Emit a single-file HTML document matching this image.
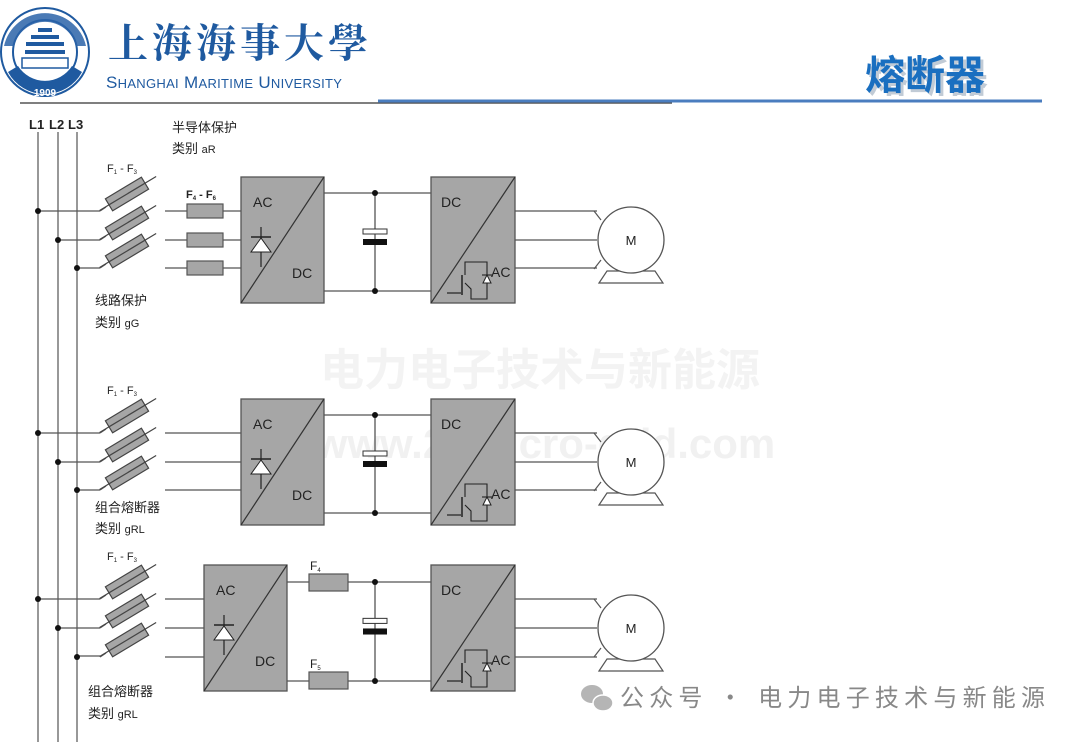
<!DOCTYPE html>
<html><head><meta charset="utf-8"><style>
html,body{margin:0;padding:0;background:#fff;}
body{width:1080px;height:742px;overflow:hidden;position:relative;font-family:"Liberation Sans","Noto Sans CJK SC",sans-serif;}
</style></head><body>
<svg width="1080" height="742" viewBox="0 0 1080 742" xmlns="http://www.w3.org/2000/svg" style="position:absolute;left:0;top:0;font-family:'Liberation Sans','Noto Sans CJK SC',sans-serif">
<defs>
<g id="tf">
  <line x1="-32" y1="0" x2="34" y2="0" stroke="#444" stroke-width="1.2"/>
  <rect x="-21" y="-7" width="42" height="14" fill="#a6a6a6" stroke="#444" stroke-width="1.2"/>
  <line x1="-21" y1="0" x2="21" y2="0" stroke="#444" stroke-width="1.2"/>
</g>
<g id="fuse3">
  <line x1="100" y1="0" x2="106" y2="-4" stroke="#555" stroke-width="1.3"/>
  <g transform="translate(127,-17) rotate(-31)"><use href="#tf"/></g>
</g>
<g id="conv1">
  <rect x="0" y="0" width="83" height="126" fill="#a6a6a6" stroke="#555" stroke-width="1.3"/>
  <line x1="0" y1="126" x2="83" y2="0" stroke="#333" stroke-width="1.2"/>
  <text x="12" y="30" font-size="14" fill="#222">AC</text>
  <text x="51" y="101" font-size="14" fill="#222">DC</text>
  <line x1="20" y1="50" x2="20" y2="90" stroke="#222" stroke-width="1.2"/>
  <line x1="10" y1="60" x2="30" y2="60" stroke="#222" stroke-width="1.5"/>
  <polygon points="20,61 10,75 30,75" fill="#fff" stroke="#222" stroke-width="1"/>
</g>
<g id="conv2">
  <rect x="0" y="0" width="84" height="126" fill="#a6a6a6" stroke="#555" stroke-width="1.3"/>
  <line x1="0" y1="126" x2="84" y2="0" stroke="#333" stroke-width="1.2"/>
  <text x="10" y="30" font-size="14" fill="#222">DC</text>
  <text x="60" y="100" font-size="14" fill="#222">AC</text>
  <polyline points="16,116 30,116" fill="none" stroke="#222" stroke-width="1.2"/>
  <line x1="31" y1="98" x2="31" y2="118" stroke="#222" stroke-width="1.5"/>
  <polyline points="34,98 34,85 56,85 56,122 40,122 40,112 34,106" fill="none" stroke="#222" stroke-width="1.1"/>
  <line x1="51" y1="98" x2="61" y2="98" stroke="#222" stroke-width="1.1"/>
  <polygon points="56,98 52,106 60,106" fill="#fff" stroke="#222" stroke-width="1"/>
</g>
<g id="motor">
  <polyline points="-3,-29 4,-20" fill="none" stroke="#555" stroke-width="1.2"/>
  <polyline points="-3,29 4,20" fill="none" stroke="#555" stroke-width="1.2"/>
  <polygon points="2,43 10,31 58,31 66,43" fill="#fff" stroke="#555" stroke-width="1.2"/>
  <circle cx="34" cy="0" r="33" fill="#fff" stroke="#555" stroke-width="1.3"/>
  <text x="34" y="5" font-size="13" text-anchor="middle" fill="#222">M</text>
</g>
<g id="cap">
  <line x1="0" y1="0" x2="0" y2="98" stroke="#555" stroke-width="1.3"/>
  <rect x="-12" y="36" width="24" height="5" fill="#fff" stroke="#333" stroke-width="1"/>
  <rect x="-12" y="46" width="24" height="6" fill="#111"/>
  <circle cx="0" cy="0" r="3" fill="#111"/>
  <circle cx="0" cy="98" r="3" fill="#111"/>
</g>
<g id="in3" stroke="#555" stroke-width="1.3">
  <line x1="38" y1="0" x2="100" y2="0"/><line x1="58" y1="29" x2="100" y2="29"/><line x1="77" y1="57" x2="100" y2="57"/>
</g>
</defs>

<!-- watermark -->
<text x="540" y="385" font-size="44" font-weight="bold" fill="#f3f3f3" text-anchor="middle" font-family="'Noto Sans CJK SC',sans-serif">电力电子技术与新能源</text>
<text x="545" y="458" font-size="42" font-weight="bold" fill="#f1f1f1" text-anchor="middle">www.21micro-grid.com</text>

<!-- header -->
<circle cx="45" cy="52" r="44" fill="#fff" stroke="#1f5aa0" stroke-width="2"/>
<circle cx="45" cy="52" r="32" fill="#fff" stroke="#1f5aa0" stroke-width="2"/>
<path d="M4,46 A42,42 0 0 1 86,46 L76,46 A32,32 0 0 0 14,46 Z" fill="#2a63a8" opacity="0.85"/>
<path d="M8,72 A42,42 0 0 0 82,72 L72,66 A32,32 0 0 1 18,66 Z" fill="#1f5aa0"/>
<g fill="#1f5aa0"><rect x="38" y="28" width="14" height="4"/><rect x="31" y="35" width="28" height="4"/><rect x="26" y="42" width="38" height="4"/><rect x="25" y="50" width="40" height="4"/></g>
<rect x="22" y="58" width="46" height="10" fill="#fff" stroke="#1f5aa0" stroke-width="1.5"/>
<text x="45" y="96" font-size="10" fill="#fff" text-anchor="middle" font-weight="bold">1909</text>
<text x="108" y="57" font-size="40" fill="#1f5aa0" font-family="'Noto Serif CJK SC',serif" font-weight="bold" letter-spacing="4">上海海事大學</text>
<text x="106" y="88" font-size="17" fill="#1f5aa0" letter-spacing="0.3">S<tspan font-size="13">HANGHAI</tspan> M<tspan font-size="13">ARITIME</tspan>  U<tspan font-size="13">NIVERSITY</tspan></text>
<line x1="20" y1="103" x2="672" y2="103" stroke="#555" stroke-width="1.5"/>
<line x1="378" y1="101" x2="1042" y2="101" stroke="#4a7dbf" stroke-width="3"/>
<text x="868" y="92" font-size="40" font-weight="bold" fill="#9ab" opacity="0.6" font-family="'Noto Sans CJK SC',sans-serif">熔断器</text>
<text x="865" y="89" font-size="40" font-weight="bold" fill="#1a6fc0" font-family="'Noto Sans CJK SC',sans-serif">熔断器</text>

<!-- bus -->
<g stroke="#777" stroke-width="1.5">
<line x1="38" y1="132" x2="38" y2="742"/><line x1="58" y1="132" x2="58" y2="742"/><line x1="77" y1="132" x2="77" y2="742"/>
</g>
<text x="29" y="129" font-size="13" font-weight="bold" fill="#222">L1</text>
<text x="49" y="129" font-size="13" font-weight="bold" fill="#222">L2</text>
<text x="68" y="129" font-size="13" font-weight="bold" fill="#222">L3</text>

<g id="sec1">
  <use href="#in3" transform="translate(0,211)"/>
  <use href="#fuse3" transform="translate(0,211)"/>
  <use href="#fuse3" transform="translate(0,240)"/>
  <use href="#fuse3" transform="translate(0,268)"/>
  <circle cx="38" cy="211" r="3" fill="#111"/><circle cx="58" cy="240" r="3" fill="#111"/><circle cx="77" cy="268" r="3" fill="#111"/>
  <text x="107" y="172" font-size="11" fill="#222">F<tspan font-size="6" dy="2">1</tspan><tspan dy="-2"> - F</tspan><tspan font-size="6" dy="2">3</tspan></text>
  <g stroke="#555" stroke-width="1.3">
   <line x1="165" y1="211" x2="241" y2="211"/><line x1="165" y1="240" x2="241" y2="240"/><line x1="165" y1="268" x2="241" y2="268"/>
   <line x1="324" y1="193" x2="431" y2="193"/><line x1="324" y1="291" x2="431" y2="291"/>
   <line x1="515" y1="211" x2="597" y2="211"/><line x1="515" y1="240" x2="597" y2="240"/><line x1="515" y1="268" x2="597" y2="268"/>
  </g>
  <use href="#conv1" transform="translate(241,177)"/>
  <use href="#cap" transform="translate(375,193)"/>
  <use href="#conv2" transform="translate(431,177)"/>
  <use href="#motor" transform="translate(597,240)"/>
</g>
<g fill="#a6a6a6" stroke="#555" stroke-width="1.2">
 <rect x="187" y="204" width="36" height="14"/><rect x="187" y="233" width="36" height="14"/><rect x="187" y="261" width="36" height="14"/>
</g>
<text x="186" y="198" font-size="11" font-weight="bold" fill="#222">F<tspan font-size="6" dy="2">4</tspan><tspan dy="-2"> - F</tspan><tspan font-size="6" dy="2">6</tspan></text>
<text x="172" y="132" font-size="13" fill="#222">半导体保护</text>
<text x="172" y="153" font-size="13" fill="#222">类别 <tspan font-size="11">aR</tspan></text>
<text x="95" y="305" font-size="13" fill="#222">线路保护</text>
<text x="95" y="327" font-size="13" fill="#222">类别 <tspan font-size="11">gG</tspan></text>

<use href="#sec1" transform="translate(0,222)"/>
<text x="95" y="512" font-size="13" fill="#222">组合熔断器</text>
<text x="95" y="533" font-size="13" fill="#222">类别 <tspan font-size="11">gRL</tspan></text>

<!-- section 3 -->
<use href="#in3" transform="translate(0,599)"/>
<use href="#fuse3" transform="translate(0,599)"/>
<use href="#fuse3" transform="translate(0,628)"/>
<use href="#fuse3" transform="translate(0,657)"/>
<circle cx="38" cy="599" r="3" fill="#111"/><circle cx="58" cy="628" r="3" fill="#111"/><circle cx="77" cy="657" r="3" fill="#111"/>
<text x="107" y="560" font-size="11" fill="#222">F<tspan font-size="6" dy="2">1</tspan><tspan dy="-2"> - F</tspan><tspan font-size="6" dy="2">3</tspan></text>
<g stroke="#555" stroke-width="1.3">
 <line x1="165" y1="599" x2="204" y2="599"/><line x1="165" y1="628" x2="204" y2="628"/><line x1="165" y1="657" x2="204" y2="657"/>
 <line x1="287" y1="582" x2="431" y2="582"/><line x1="287" y1="681" x2="431" y2="681"/>
 <line x1="515" y1="599" x2="597" y2="599"/><line x1="515" y1="628" x2="597" y2="628"/><line x1="515" y1="657" x2="597" y2="657"/>
</g>
<use href="#conv1" transform="translate(204,565)"/>
<rect x="309" y="574" width="39" height="17" fill="#a6a6a6" stroke="#555" stroke-width="1.2"/>
<rect x="309" y="672" width="39" height="17" fill="#a6a6a6" stroke="#555" stroke-width="1.2"/>
<text x="310" y="570" font-size="12" fill="#222">F<tspan font-size="6" dy="2">4</tspan></text>
<text x="310" y="668" font-size="12" fill="#222">F<tspan font-size="6" dy="2">5</tspan></text>
<use href="#cap" transform="translate(375,582) scale(1,1.01)"/>
<use href="#conv2" transform="translate(431,565)"/>
<use href="#motor" transform="translate(597,628)"/>
<text x="88" y="696" font-size="13" fill="#222">组合熔断器</text>
<text x="88" y="718" font-size="13" fill="#222">类别 <tspan font-size="11">gRL</tspan></text>

<!-- bottom-right wechat -->
<g fill="#b5b5b5">
 <ellipse cx="592" cy="694" rx="11" ry="9"/><ellipse cx="603" cy="703" rx="10" ry="8" stroke="#fff" stroke-width="1.5"/>
</g>
<text x="620" y="706" font-size="24" fill="#888" font-family="'Noto Sans CJK SC',sans-serif" textLength="425" lengthAdjust="spacing">公众号 · 电力电子技术与新能源</text>
</svg>
</body></html>
